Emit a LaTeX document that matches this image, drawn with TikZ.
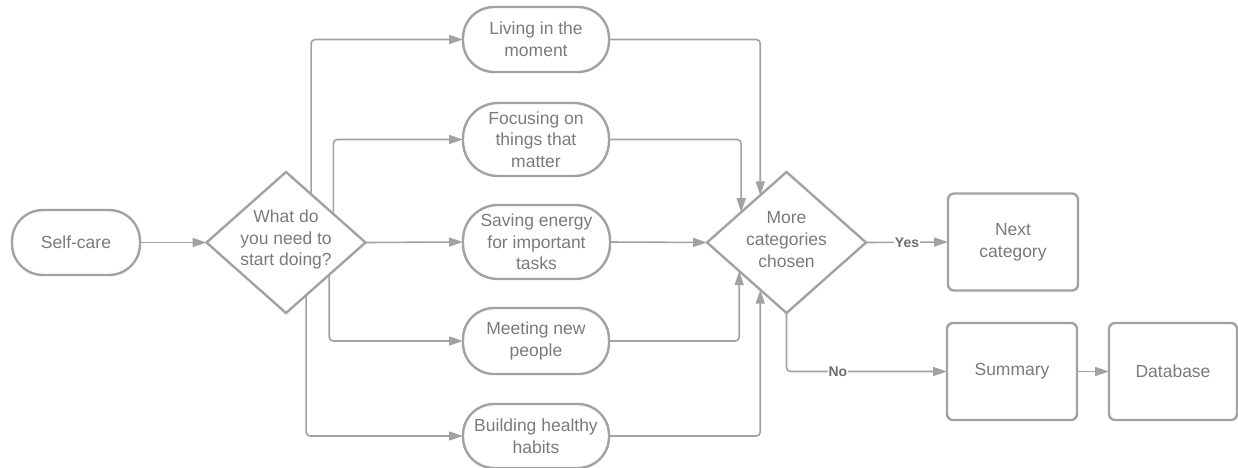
\documentclass[tikz,border=0pt]{standalone}
\usepackage{fontspec}
\setmainfont{Liberation Sans}
\usetikzlibrary{shapes.geometric,arrows.meta,calc}
\definecolor{lineC}{RGB}{162,162,162}
\definecolor{textC}{RGB}{122,122,122}
\definecolor{lblC}{RGB}{110,110,110}
\tikzset{
  base/.style={draw=lineC, line width=2.4pt, text=textC, align=center, inner sep=0pt, outer sep=0pt,
    font=\fontsize{17.5}{21.7}\selectfont},
  pill/.style={base, rectangle, minimum width=#1, rounded corners=31pt},
  boxn/.style={base, rectangle, rounded corners=6pt, minimum width=130pt, minimum height=97pt},
  dia/.style={draw=lineC, line width=2.4pt, diamond, inner sep=0pt, outer sep=0pt, minimum width=159pt, minimum height=141pt},
  dtext/.style={text=textC, align=center, inner sep=0pt, font=\fontsize{17.5}{21.7}\selectfont},
  conn/.style={draw=lineC, line width=1.6pt, rounded corners=4pt, -{Triangle[length=14pt,width=9pt]}},
  lbl/.style={fill=white, text=lblC, inner sep=1pt, font=\fontsize{14}{16}\bfseries\selectfont}
}
\begin{document}
\begin{tikzpicture}[x=1pt,y=-1pt]
\useasboundingbox (0,0) rectangle (1238,467);
\node[pill=128pt, minimum height=65pt] (self) at (76,242.5) {Self-care};
\node[dia] (d1) at (286,242.5) {};
\node[dtext] (d1t) at (286,239.5) {What do\\you need to\\start doing?};
\node[pill=146pt, minimum height=65pt] (live) at (536,39.5) {Living in the\\moment};
\node[pill=146pt, minimum height=73pt, rounded corners=35pt] (focus) at (536,139.5) {Focusing on\\things that\\matter};
\node[pill=147pt, minimum height=74pt, rounded corners=35pt] (save) at (536.5,242) {Saving energy\\for important\\tasks};
\node[pill=146pt, minimum height=66pt] (meet) at (536,341) {Meeting new\\people};
\node[pill=146pt, minimum height=64pt] (build) at (536,436) {Building healthy\\habits};
\node[dia] (d2) at (786.5,242.5) {};
\node[dtext] (d2t) at (786.5,239.5) {More\\categories\\chosen};
\node[boxn] (next) at (1013,242) {Next\\category};
\node[boxn] (sum) at (1012,371.5) {Summary};
\node[boxn, minimum width=128pt] (db) at (1173,371.5) {Database};

\draw[conn] (self.east) -- (d1.west);
\draw[conn] ($(d1.north)!0.316!(d1.east)$) |- (live.west);
\draw[conn] ($(d1.north)!0.595!(d1.east)$) |- (focus.west);
\draw[conn] (d1.east) -- (save.west);
\draw[conn] ($(d1.south)!0.544!(d1.east)$) |- (meet.west);
\draw[conn] ($(d1.south)!0.253!(d1.east)$) |- (build.west);

\draw[conn] (live.east) -| ($(d2.north)!0.33!(d2.west)$);
\draw[conn] (focus.east) -| ($(d2.north)!0.57!(d2.west)$);
\draw[conn] (save.east) -- (d2.west);
\draw[conn] (meet.east) -| ($(d2.south)!0.595!(d2.west)$);
\draw[conn] (build.east) -| ($(d2.south)!0.33!(d2.west)$);

\draw[conn] (d2.east) -- node[lbl] {Yes} (next.west);
\draw[conn] (d2.south) |- node[lbl, pos=0.66] {No} (sum.west);
\draw[conn] (sum.east) -- (db.west);
\end{tikzpicture}
\end{document}
